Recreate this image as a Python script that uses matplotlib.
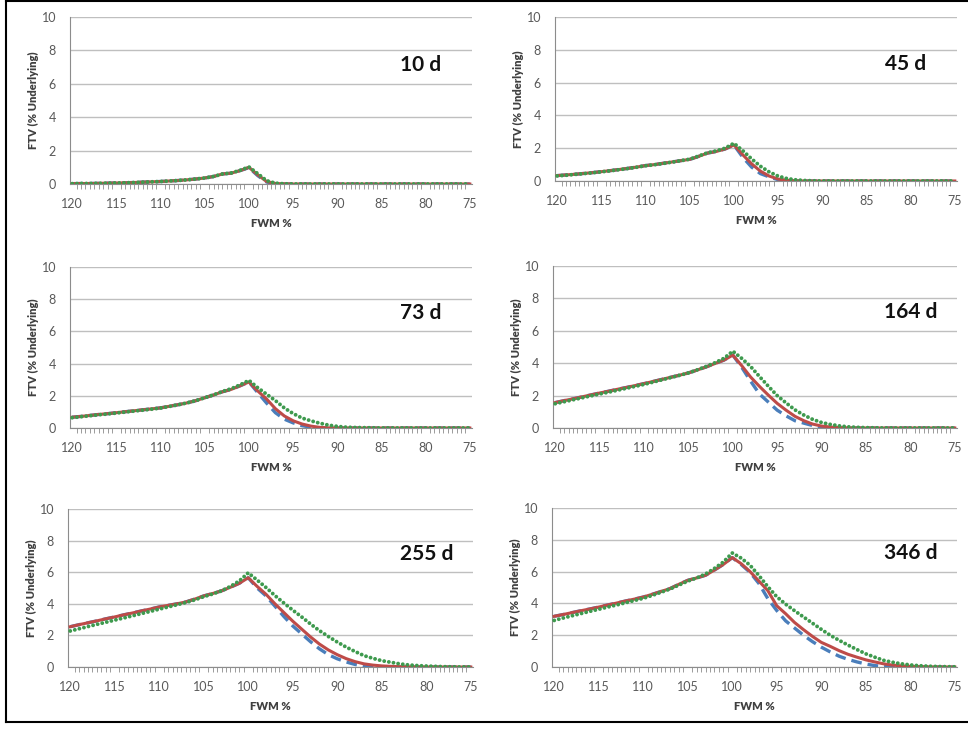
import numpy as np
import matplotlib
matplotlib.use("Agg")
import matplotlib.pyplot as plt
from matplotlib.lines import Line2D

# ---------------- data ----------------
fwm = list(range(120, 74, -1))  # 120 .. 75

labels = ["10 d", "45 d", "73 d", "164 d", "255 d", "346 d"]
xtick_vals = [120, 115, 110, 105, 100, 95, 90, 85, 80, 75]
ytick_vals = [0, 2, 4, 6, 8, 10]

# 10 d
d10_blue = [0.02, 0.03, 0.03, 0.04, 0.05, 0.06, 0.07, 0.09, 0.11, 0.13, 0.15, 0.18, 0.21, 0.25, 0.30, 0.36, 0.45, 0.60, 0.65, 0.80, 0.98,
            0.50, 0.12, 0.02, 0.0, 0.0, 0.0, 0.0, 0.0, 0.0, 0.0, 0.0, 0.0, 0.0, 0.0, 0.0, 0.0, 0.0, 0.0, 0.0, 0.0, 0.0, 0.0, 0.0, 0.0, 0.0]
d10_red = [0.02, 0.03, 0.03, 0.04, 0.05, 0.06, 0.07, 0.09, 0.11, 0.13, 0.15, 0.18, 0.21, 0.25, 0.30, 0.36, 0.45, 0.60, 0.65, 0.80, 1.00,
           0.55, 0.15, 0.03, 0.01, 0.0, 0.0, 0.0, 0.0, 0.0, 0.0, 0.0, 0.0, 0.0, 0.0, 0.0, 0.0, 0.0, 0.0, 0.0, 0.0, 0.0, 0.0, 0.0, 0.0, 0.0]
d10_green = [0.02, 0.03, 0.03, 0.04, 0.05, 0.06, 0.07, 0.09, 0.11, 0.13, 0.15, 0.18, 0.21, 0.25, 0.30, 0.36, 0.45, 0.60, 0.66, 0.82, 1.02,
             0.62, 0.20, 0.05, 0.01, 0.0, 0.0, 0.0, 0.0, 0.0, 0.0, 0.0, 0.0, 0.0, 0.0, 0.0, 0.0, 0.0, 0.0, 0.0, 0.0, 0.0, 0.0, 0.0, 0.0, 0.0]

# 45 d
d45_blue = [0.33, 0.37, 0.41, 0.46, 0.51, 0.57, 0.63, 0.70, 0.77, 0.85, 0.94, 1.00, 1.08, 1.16, 1.24, 1.32, 1.50, 1.70, 1.80, 1.95, 2.20,
            1.45, 0.85, 0.45, 0.25, 0.08, 0.02, 0.0, 0.0, 0.0, 0.0, 0.0, 0.0, 0.0, 0.0, 0.0, 0.0, 0.0, 0.0, 0.0, 0.0, 0.0, 0.0, 0.0, 0.0, 0.0]
d45_red = [0.33, 0.37, 0.41, 0.46, 0.51, 0.57, 0.63, 0.70, 0.77, 0.85, 0.94, 1.00, 1.08, 1.16, 1.24, 1.32, 1.50, 1.70, 1.80, 1.95, 2.20,
           1.60, 1.05, 0.60, 0.30, 0.12, 0.04, 0.01, 0.0, 0.0, 0.0, 0.0, 0.0, 0.0, 0.0, 0.0, 0.0, 0.0, 0.0, 0.0, 0.0, 0.0, 0.0, 0.0, 0.0, 0.0]
d45_green = [0.31, 0.35, 0.40, 0.45, 0.50, 0.56, 0.62, 0.69, 0.76, 0.84, 0.93, 0.99, 1.07, 1.15, 1.24, 1.33, 1.52, 1.72, 1.84, 2.00, 2.30,
             1.85, 1.35, 0.90, 0.55, 0.30, 0.15, 0.07, 0.03, 0.01, 0.0, 0.0, 0.0, 0.0, 0.0, 0.0, 0.0, 0.0, 0.0, 0.0, 0.0, 0.0, 0.0, 0.0, 0.0, 0.0]

# 73 d
d73_blue = [0.67, 0.72, 0.78, 0.84, 0.89, 0.95, 1.01, 1.07, 1.13, 1.19, 1.25, 1.35, 1.45, 1.56, 1.70, 1.88, 2.05, 2.25, 2.40, 2.62, 2.86,
            2.20, 1.55, 0.95, 0.55, 0.32, 0.15, 0.05, 0.01, 0.0, 0.0, 0.0, 0.0, 0.0, 0.0, 0.0, 0.0, 0.0, 0.0, 0.0, 0.0, 0.0, 0.0, 0.0, 0.0, 0.0]
d73_red = [0.67, 0.72, 0.78, 0.84, 0.89, 0.95, 1.01, 1.07, 1.13, 1.19, 1.25, 1.35, 1.45, 1.56, 1.70, 1.88, 2.05, 2.25, 2.40, 2.62, 2.86,
           2.30, 1.80, 1.20, 0.75, 0.45, 0.25, 0.12, 0.04, 0.01, 0.0, 0.0, 0.0, 0.0, 0.0, 0.0, 0.0, 0.0, 0.0, 0.0, 0.0, 0.0, 0.0, 0.0, 0.0, 0.0]
d73_green = [0.64, 0.70, 0.76, 0.82, 0.87, 0.93, 0.99, 1.05, 1.11, 1.17, 1.24, 1.34, 1.44, 1.56, 1.70, 1.88, 2.06, 2.27, 2.44, 2.68, 2.96,
             2.50, 2.10, 1.70, 1.25, 0.90, 0.62, 0.45, 0.30, 0.18, 0.10, 0.05, 0.03, 0.02, 0.01, 0.0, 0.0, 0.0, 0.0, 0.0, 0.0, 0.0, 0.0, 0.0, 0.0, 0.0]

# 164 d
d164_blue = [1.57, 1.69, 1.80, 1.92, 2.04, 2.16, 2.27, 2.39, 2.50, 2.62, 2.74, 2.87, 3.00, 3.13, 3.26, 3.40, 3.58, 3.77, 3.98, 4.19, 4.50,
             3.75, 2.90, 2.10, 1.60, 1.10, 0.75, 0.45, 0.30, 0.15, 0.04, 0.0, 0.0, 0.0, 0.0, 0.0, 0.0, 0.0, 0.0, 0.0, 0.0, 0.0, 0.0, 0.0, 0.0, 0.0]
d164_red = [1.57, 1.69, 1.80, 1.92, 2.04, 2.16, 2.27, 2.39, 2.50, 2.62, 2.74, 2.87, 3.00, 3.13, 3.26, 3.40, 3.58, 3.77, 3.98, 4.19, 4.50,
            3.85, 3.15, 2.57, 2.03, 1.52, 1.10, 0.72, 0.45, 0.24, 0.12, 0.06, 0.02, 0.01, 0.0, 0.0, 0.0, 0.0, 0.0, 0.0, 0.0, 0.0, 0.0, 0.0, 0.0, 0.0]
d164_green = [1.50, 1.62, 1.74, 1.86, 1.98, 2.10, 2.21, 2.33, 2.45, 2.57, 2.69, 2.83, 2.97, 3.11, 3.25, 3.40, 3.59, 3.80, 4.03, 4.30, 4.74,
              4.30, 3.80, 3.18, 2.58, 2.00, 1.55, 1.12, 0.80, 0.53, 0.34, 0.22, 0.13, 0.07, 0.04, 0.02, 0.01, 0.0, 0.0, 0.0, 0.0, 0.0, 0.0, 0.0, 0.0, 0.0]

# 255 d
d255_blue = [2.55, 2.68, 2.80, 2.92, 3.05, 3.17, 3.30, 3.42, 3.55, 3.67, 3.80, 3.90, 4.00, 4.12, 4.30, 4.50, 4.65, 4.82, 5.05, 5.30, 5.65,
             5.00, 4.50, 3.85, 3.20, 2.60, 2.10, 1.60, 1.15, 0.78, 0.52, 0.32, 0.16, 0.06, 0.01, 0.0, 0.0, 0.0, 0.0, 0.0, 0.0, 0.0, 0.0, 0.0, 0.0, 0.0]
d255_red = [2.55, 2.68, 2.80, 2.92, 3.05, 3.17, 3.30, 3.42, 3.55, 3.67, 3.80, 3.90, 4.00, 4.12, 4.30, 4.50, 4.65, 4.82, 5.05, 5.30, 5.65,
            5.10, 4.60, 4.00, 3.45, 2.90, 2.40, 1.90, 1.45, 1.08, 0.78, 0.53, 0.34, 0.20, 0.12, 0.07, 0.04, 0.02, 0.01, 0.0, 0.0, 0.0, 0.0, 0.0, 0.0, 0.0]
d255_green = [2.28, 2.42, 2.56, 2.70, 2.83, 2.97, 3.10, 3.24, 3.38, 3.52, 3.66, 3.80, 3.94, 4.08, 4.25, 4.45, 4.62, 4.82, 5.10, 5.45, 5.96,
              5.50, 5.03, 4.52, 4.05, 3.60, 3.17, 2.72, 2.30, 1.93, 1.58, 1.26, 0.98, 0.72, 0.55, 0.40, 0.30, 0.20, 0.13, 0.09, 0.06, 0.04, 0.02, 0.01, 0.0, 0.0]

# 346 d
d346_blue = [3.19, 3.30, 3.42, 3.54, 3.65, 3.77, 3.90, 4.02, 4.15, 4.27, 4.40, 4.57, 4.75, 4.93, 5.20, 5.45, 5.60, 5.77, 6.10, 6.45, 6.88,
             6.45, 5.95, 5.25, 4.30, 3.55, 2.90, 2.45, 2.00, 1.60, 1.25, 0.95, 0.68, 0.48, 0.32, 0.19, 0.09, 0.03, 0.01, 0.0, 0.0, 0.0, 0.0, 0.0, 0.0, 0.0]
d346_red = [3.19, 3.30, 3.42, 3.54, 3.65, 3.77, 3.90, 4.02, 4.15, 4.27, 4.40, 4.57, 4.75, 4.93, 5.20, 5.45, 5.60, 5.77, 6.10, 6.45, 6.88,
            6.50, 6.00, 5.40, 4.80, 3.85, 3.35, 2.80, 2.35, 1.93, 1.55, 1.30, 1.03, 0.80, 0.62, 0.45, 0.32, 0.20, 0.12, 0.07, 0.04, 0.02, 0.01, 0.0, 0.0, 0.0]
d346_green = [2.93, 3.08, 3.22, 3.36, 3.50, 3.63, 3.77, 3.90, 4.04, 4.18, 4.32, 4.50, 4.70, 4.90, 5.15, 5.40, 5.60, 5.85, 6.20, 6.60, 7.17,
              6.85, 6.40, 5.75, 5.05, 4.42, 3.95, 3.54, 3.15, 2.76, 2.37, 2.00, 1.68, 1.38, 1.10, 0.83, 0.62, 0.42, 0.30, 0.20, 0.13, 0.08, 0.05, 0.03, 0.02, 0.01]

panels = [
    (d10_blue, d10_red, d10_green),
    (d45_blue, d45_red, d45_green),
    (d73_blue, d73_red, d73_green),
    (d164_blue, d164_red, d164_green),
    (d255_blue, d255_red, d255_green),
    (d346_blue, d346_red, d346_green),
]

# ---------------- layout (pixels) ----------------
W, H = 968, 729
boxes = [  # left, right, top, bottom
    (70, 472, 17, 184),
    (555, 957, 17, 181),
    (70, 472, 267, 428),
    (553, 957, 266, 428),
    (68, 473, 509, 667),
    (552, 957, 508, 667),
]

plt.rcParams['font.family'] = ['Lato', 'DejaVu Sans']
fig = plt.figure(figsize=(W / 100, H / 100), dpi=100)
fig.patch.set_facecolor('white')

C_BLUE = '#4A7EBB'
C_RED = '#BE4B48'
C_GREEN = '#3E9A4E'
C_TXT = '#595959'
C_GRID = '#BFBFBF'
C_AX = '#8C8C8C'

for (l, r, t, b), lab, (bl, rd, gr) in zip(boxes, labels, panels):
    ax = fig.add_axes([l / W, 1 - b / H, (r - l) / W, (b - t) / H])
    ax.plot(fwm, bl, color=C_BLUE, lw=2.4, linestyle=(0, (3.2, 1.8)), zorder=3)
    ax.plot(fwm, rd, color=C_RED, lw=2.2, linestyle='-', zorder=4)
    ax.plot(fwm, gr, color=C_GREEN, lw=2.8, linestyle=(0, (0.01, 1.2)),
            dash_capstyle='round', zorder=5)
    ax.set_xlim(120.25, 74.75)
    ax.set_ylim(0, 10)
    ax.set_xticks(xtick_vals)
    ax.set_xticklabels([str(v) for v in xtick_vals])
    ax.set_xticks(np.arange(75, 120.5, 0.5), minor=True)
    ax.set_yticks(ytick_vals)
    ax.tick_params(axis='x', which='major', length=0, pad=10, labelsize=9, labelcolor=C_TXT)
    ax.tick_params(axis='x', which='minor', length=3.5, width=0.6, color=C_AX, direction='out')
    ax.tick_params(axis='y', which='major', length=0, pad=10, labelsize=9, labelcolor=C_TXT)
    ax.grid(axis='y', color=C_GRID, lw=1.0)
    ax.set_axisbelow(True)
    for s in ['top', 'right']:
        ax.spines[s].set_visible(False)
    ax.spines['left'].set_color(C_AX)
    ax.spines['bottom'].set_color(C_AX)
    ax.spines['left'].set_linewidth(0.8)
    ax.spines['bottom'].set_linewidth(0.8)
    ax.set_xlabel('FWM %', fontsize=8, fontweight='heavy', color='#404040', labelpad=6)
    ax.set_ylabel('FTV (% Underlying)', fontsize=8, fontweight='heavy', color='#404040', labelpad=2)
    ax.text(0.82, 0.715, lab, transform=ax.transAxes, fontsize=15, fontweight='bold',
            ha='left', va='center', color='#111111')

# outer frame (left, top, bottom)
for xs, ys in [((6, 6), (1, 722)), ((6, 968), (1, 1)), ((6, 968), (722, 722))]:
    fig.add_artist(Line2D([x / W for x in xs], [1 - y / H for y in ys],
                          transform=fig.transFigure, color='black', lw=1.5))

fig.savefig('out.png', dpi=100)
